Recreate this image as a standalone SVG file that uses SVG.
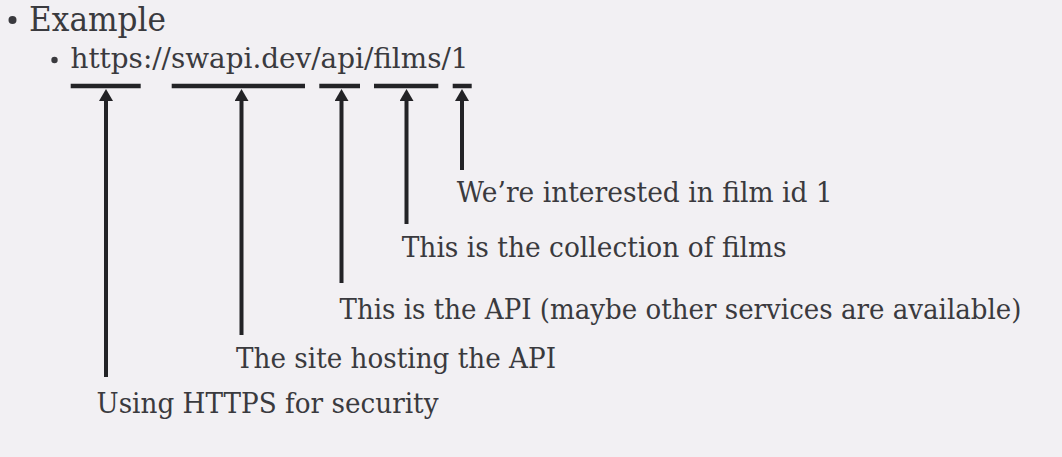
<svg xmlns="http://www.w3.org/2000/svg" width="1062" height="457" viewBox="0 0 1062 457">
  <style>
    .t { font-family: "DejaVu Serif", "Liberation Serif", serif; fill: #3a3a3e; }
    .lbl { font-size: 27px; }
    .bar { stroke: #232326; stroke-width: 4.5; fill: none; }
    .shaft { stroke: #232326; stroke-width: 4; fill: none; marker-end: url(#ah); }
  </style>
  <defs>
    <marker id="ah" markerUnits="userSpaceOnUse" viewBox="0 0 12 14" refX="6" refY="7" markerWidth="12" markerHeight="14" orient="auto">
      <path d="M0,0 L12,7 L0,14 z" fill="#232326"/>
    </marker>
  </defs>
  <rect width="1062" height="457" fill="#f2f0f3"/>

  <g id="title">
    <circle cx="12.5" cy="20" r="4" fill="#3a3a3e"/>
    <text class="t" x="29" y="30.5" font-size="33" textLength="137" lengthAdjust="spacingAndGlyphs">Example</text>
  </g>

  <g id="url">
    <circle cx="54.5" cy="60" r="3.2" fill="#3a3a3e"/>
    <text class="t" x="70.5" y="68.3" font-size="28" textLength="398" lengthAdjust="spacingAndGlyphs">https://swapi.dev/api/films/1</text>
    <g id="segments">
      <line class="bar" x1="70.7" y1="86" x2="140.7" y2="86"/>
      <line class="bar" x1="171.7" y1="86" x2="305" y2="86"/>
      <line class="bar" x1="319.3" y1="86" x2="360" y2="86"/>
      <line class="bar" x1="374" y1="86" x2="438.3" y2="86"/>
      <line class="bar" x1="452.7" y1="86" x2="471.7" y2="86"/>
    </g>
  </g>

  <g id="label-id">
    <text class="t lbl" x="456.7" y="201.7" textLength="376" lengthAdjust="spacingAndGlyphs">We’re interested in film id 1</text>
  </g>
  <g id="label-collection">
    <text class="t lbl" x="401.7" y="257.3" textLength="385" lengthAdjust="spacingAndGlyphs">This is the collection of films</text>
  </g>
  <g id="label-api">
    <text class="t lbl" x="339.5" y="319.3" textLength="682" lengthAdjust="spacingAndGlyphs">This is the API (maybe other services are available)</text>
  </g>
  <g id="label-site">
    <text class="t lbl" x="236" y="368.3" textLength="320" lengthAdjust="spacingAndGlyphs">The site hosting the API</text>
  </g>
  <g id="label-https">
    <text class="t lbl" x="96.5" y="413.3" textLength="342" lengthAdjust="spacingAndGlyphs">Using HTTPS for security</text>
  </g>

  <g id="connectors">
    <line class="shaft" x1="106" y1="377" x2="106" y2="95"/>
    <line class="shaft" x1="241.5" y1="335" x2="241.5" y2="95"/>
    <line class="shaft" x1="341.5" y1="283" x2="341.5" y2="95"/>
    <line class="shaft" x1="406.5" y1="224" x2="406.5" y2="95"/>
    <line class="shaft" x1="462" y1="170" x2="462" y2="95"/>
  </g>
</svg>
